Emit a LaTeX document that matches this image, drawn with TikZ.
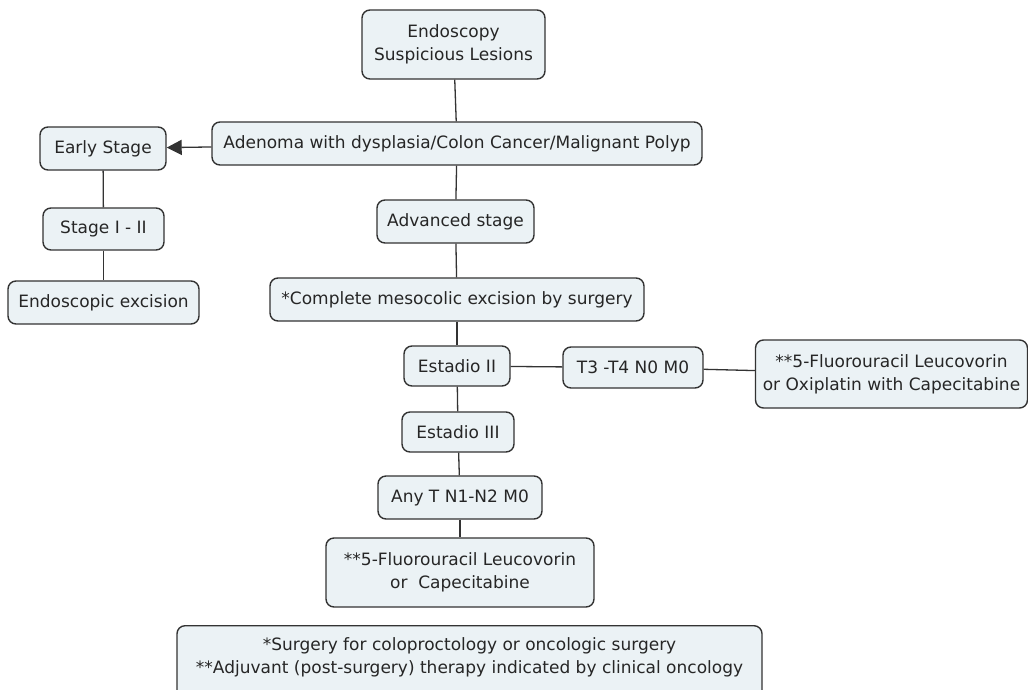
\documentclass[tikz,border=0pt]{standalone}
\usepackage{fontspec}
\setmainfont{DejaVu Sans}
\usetikzlibrary{arrows.meta}
\definecolor{boxfill}{HTML}{EBF2F5}
\definecolor{edge}{HTML}{333333}
\begin{document}
\begin{tikzpicture}[x=1pt,y=-1pt,
  box/.style={draw=edge, line width=1.4pt, fill=boxfill, rounded corners=8pt,
    inner sep=0pt, align=center, font=\fontsize{17}{23}\selectfont, text=black!85},
  link/.style={draw=edge, line width=1.3pt},
  arrowlink/.style={link, -{Triangle[length=15pt,width=15pt]}}]
\useasboundingbox (0,0) rectangle (1028,689);
\begin{scope}
\clip (0,0) rectangle (1028,689);
\node[box, minimum width=183pt, minimum height=69pt] (endo) at (453.5,44.5) {Endoscopy\\Suspicious Lesions};
\node[box, minimum width=490pt, minimum height=43pt] (aden) at (457,143.5) {Adenoma with dysplasia/Colon Cancer/Malignant Polyp};
\node[box, minimum width=126pt, minimum height=43pt] (early) at (103,148.5) {Early Stage};
\node[box, minimum width=121pt, minimum height=42pt] (st12) at (103.5,229) {Stage I - II};
\node[box, minimum width=191pt, minimum height=43pt] (endex) at (103.5,302.5) {Endoscopic excision};
\node[box, minimum width=157pt, minimum height=43pt] (adv) at (455.5,221.5) {Advanced stage};
\node[box, minimum width=374pt, minimum height=43pt] (cme) at (457,299.5) {*Complete mesocolic excision by surgery};
\node[box, minimum width=106pt, minimum height=40pt] (e2) at (457,366) {Estadio II};
\node[box, minimum width=140pt, minimum height=41pt] (t3) at (633,367.5) {T3 -T4 N0 M0};
\node[box, minimum width=272pt, minimum height=68pt] (fu1) at (891.5,374) {**5-Fluorouracil Leucovorin\\or Oxiplatin with Capecitabine};
\node[box, minimum width=112pt, minimum height=40pt] (e3) at (458,432) {Estadio III};
\node[box, minimum width=164pt, minimum height=43pt] (anyt) at (460,497.5) {Any T N1-N2 M0};
\node[box, minimum width=268pt, minimum height=69pt] (fu2) at (460,572.5) {**5-Fluorouracil Leucovorin\\or~~Capecitabine};
\node[box, minimum width=585pt, minimum height=80pt, anchor=north] (legend) at (469.5,625) {};
\node[font=\fontsize{17}{23}\selectfont, text=black!85, align=center, anchor=center] (legtext) at (469.5,657) {*Surgery for coloproctology or oncologic surgery\\**Adjuvant (post-surgery) therapy indicated by clinical oncology};
\end{scope}
\draw[link] (endo) -- (aden);
\draw[arrowlink] (aden) -- (early);
\draw[link] (early) -- (st12);
\draw[link] (st12) -- (endex);
\draw[link] (aden) -- (adv);
\draw[link] (adv) -- (cme);
\draw[link] (cme) -- (e2);
\draw[link] (e2) -- (t3);
\draw[link] (t3) -- (fu1);
\draw[link] (e2) -- (e3);
\draw[link] (e3) -- (anyt);
\draw[link] (anyt) -- (fu2);
\end{tikzpicture}
\end{document}
